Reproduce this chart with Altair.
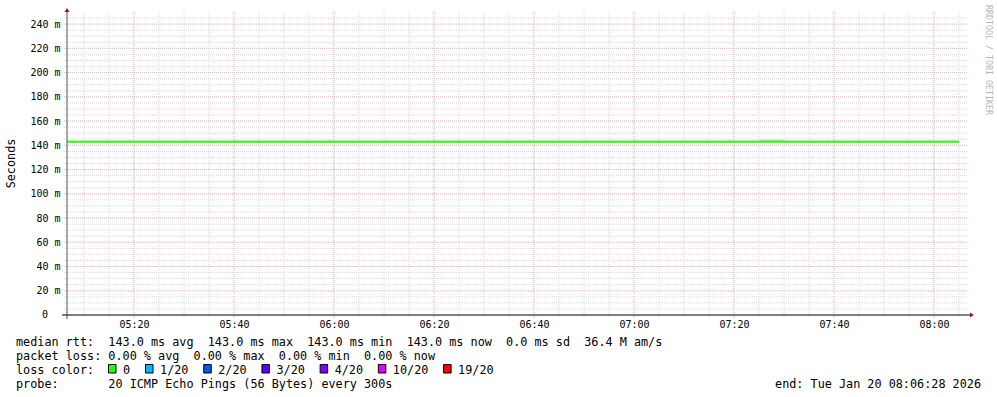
import altair as alt
import pandas as pd

# ---------------- data ----------------
times = ["05:05", "05:10", "05:15", "05:20", "05:25", "05:30", "05:35", "05:40",
         "05:45", "05:50", "05:55", "06:00", "06:05", "06:10", "06:15", "06:20",
         "06:25", "06:30", "06:35", "06:40", "06:45", "06:50", "06:55", "07:00",
         "07:05", "07:10", "07:15", "07:20", "07:25", "07:30", "07:35", "07:40",
         "07:45", "07:50", "07:55", "08:00", "08:05"]
median_rtt = [0.143, 0.143, 0.143, 0.143, 0.143, 0.143, 0.143, 0.143,
              0.143, 0.143, 0.143, 0.143, 0.143, 0.143, 0.143, 0.143,
              0.143, 0.143, 0.143, 0.143, 0.143, 0.143, 0.143, 0.143,
              0.143, 0.143, 0.143, 0.143, 0.143, 0.143, 0.143, 0.143,
              0.143, 0.143, 0.143, 0.143, 0.143]
max_rtt = [0.143, 0.143, 0.143, 0.143, 0.143, 0.143, 0.143, 0.143,
           0.143, 0.143, 0.143, 0.143, 0.143, 0.143, 0.143, 0.143,
           0.143, 0.143, 0.143, 0.143, 0.143, 0.143, 0.143, 0.143,
           0.143, 0.143, 0.143, 0.143, 0.1445, 0.143, 0.143, 0.143,
           0.143, 0.143, 0.143, 0.143, 0.143]

x_tick_minutes = [20, 40, 60, 80, 100, 120, 140, 160, 180]   # minutes after 05:00
y_tick_values = [0.02, 0.04, 0.06, 0.08, 0.10, 0.12, 0.14, 0.16, 0.18, 0.20, 0.22, 0.24]
y_zero_label = "0"

legend_lines = [
    "median rtt:  143.0 ms avg  143.0 ms max  143.0 ms min  143.0 ms now  0.0 ms sd  36.4 M am/s",
    "packet loss: 0.00 % avg  0.00 % max  0.00 % min  0.00 % now",
    "loss color:",
    "probe:       20 ICMP Echo Pings (56 Bytes) every 300s",
]
loss_labels = ["0", "1/20", "2/20", "3/20", "4/20", "10/20", "19/20"]
loss_colors = ["#26ff00", "#00b8ff", "#0059ff", "#5e00ff", "#7e00ff", "#dd00ff", "#ff0000"]
end_text = "end: Tue Jan 20 08:06:28 2026"
y_title = "Seconds"
watermark = "RRDTOOL / TOBI OETIKER"

# ---------------- layout ----------------
W, H = 900, 303
PL, PT = 67, 12
FONT = "DejaVu Sans Mono"
NB = "\u00a0"
LFS = 11.8


def nb(s):
    return s.replace(" ", NB)


df = pd.DataFrame({
    "t": times,
    "rtt": median_rtt,
    "rmax": max_rtt,
})
df["min"] = [int(s[:2]) * 60 + int(s[3:]) - 300 for s in times]

xscale = alt.Scale(domain=[6.6, 186.6], nice=False, zero=False)
yscale = alt.Scale(domain=[0, 0.25], nice=False, zero=True)

xlabel_expr = "utcFormat((datum.value + 300) * 60000, '%H:%M')"
ylabel_expr = "format(datum.value * 1000, 'd') + '" + NB + "m'"

XAX = alt.Axis(values=x_tick_minutes, labelExpr=xlabel_expr, grid=False,
               domain=False, ticks=False, labelFont=FONT, labelFontSize=10,
               labelColor="#000000", labelPadding=4, labelFlush=False,
               labelOverlap=False, labelBound=False, title=None)
YAX = alt.Axis(values=y_tick_values, labelExpr=ylabel_expr, grid=False,
               domain=False, ticks=False, labelFont=FONT, labelFontSize=10,
               labelColor="#000000", labelPadding=7, labelFlush=False,
               labelOverlap=False, labelBound=False, title=None)

one = pd.DataFrame({"a": [0]})

minor_c = "#d9d9d9"
major_c = "#efbcbc"

y_minor = alt.Chart(alt.sequence(5, 250, 5, as_="ms")).transform_calculate(
    v="datum.ms / 1000").mark_rule(color=minor_c, strokeDash=[1, 1], strokeWidth=1).encode(
    y=alt.Y("v:Q", scale=yscale, axis=YAX, title=None),
    x=alt.value(-3), x2=alt.value(W + 1))

y_major = alt.Chart(alt.sequence(20, 260, 20, as_="ms")).transform_calculate(
    v="datum.ms / 1000").mark_rule(color=major_c, strokeDash=[1, 1], strokeWidth=1).encode(
    y=alt.Y("v:Q", scale=yscale, axis=YAX, title=None),
    x=alt.value(-3), x2=alt.value(W + 1))

x_minor = alt.Chart(alt.sequence(10, 190, 5, as_="m")).mark_rule(
    color=minor_c, strokeDash=[1, 1], strokeWidth=1).encode(
    x=alt.X("m:Q", scale=xscale, axis=XAX, title=None),
    y=alt.value(0), y2=alt.value(H + 3))

x_major = alt.Chart(alt.sequence(20, 200, 20, as_="m")).mark_rule(
    color=major_c, strokeDash=[1, 1], strokeWidth=1).encode(
    x=alt.X("m:Q", scale=xscale, axis=XAX, title=None),
    y=alt.value(0), y2=alt.value(H + 3))

smoke = alt.Chart(df).mark_area(interpolate="step-after", color="#d0d0d0", clip=True).encode(
    x=alt.X("min:Q", scale=xscale, axis=XAX, title=None),
    y=alt.Y("rtt:Q", scale=yscale, axis=YAX, title=None),
    y2="rmax:Q")

line = alt.Chart(df).mark_line(interpolate="step-after", color="#22ff00",
                               strokeWidth=2, clip=True).encode(
    x=alt.X("min:Q", scale=xscale, axis=XAX, title=None),
    y=alt.Y("rtt:Q", scale=yscale, axis=YAX, title=None),
)

# "0" label of the y axis (RRDtool pads it with two blank unit columns)
zero_label = alt.Chart(pd.DataFrame({"zl": [y_zero_label]})).mark_text(
    font=FONT, fontSize=10, align="right", baseline="middle", color="#000000").encode(
    text="zl:N", x=alt.value(-7 - 2 * 6.02), y=alt.value(H))

y_axis_line = alt.Chart(one).mark_rule(color="#555555", strokeWidth=1).encode(
    x=alt.value(0), y=alt.value(-3), y2=alt.value(H + 4))
x_axis_line = alt.Chart(one).mark_rule(color="#000000", strokeWidth=1).encode(
    y=alt.value(H), x=alt.value(-5), x2=alt.value(W + 3))

arrow_c = "#9b1c1c"
up_arrow = alt.Chart(one).mark_point(
    shape="M-1,0.8L0,-0.8L1,0.8Z", filled=True, size=25, color=arrow_c, opacity=1).encode(
    x=alt.value(0), y=alt.value(-2))
right_arrow = alt.Chart(one).mark_point(
    shape="M-0.8,-1L0.8,0L-0.8,1Z", filled=True, size=25, color=arrow_c, opacity=1).encode(
    x=alt.value(W + 5), y=alt.value(H))

# legend text lines
LX = 16 - PL
base0 = 345.5 - PT
layers_text = []
for i, s in enumerate(legend_lines):
    layers_text.append(
        alt.Chart(pd.DataFrame({"s": [nb(s)]})).mark_text(
            font=FONT, fontSize=LFS, align="left", baseline="alphabetic", color="#000000").encode(
            text="s:N", x=alt.value(LX), y=alt.value(base0 + 14 * i)))

# loss colour boxes
CW = 7.05
bx = 108.5
box_layers = []
for lab, col in zip(loss_labels, loss_colors):
    box_layers.append(
        alt.Chart(one).mark_rect(color=col, stroke="#000000", strokeWidth=1).encode(
            x=alt.value(bx - PL), x2=alt.value(bx - PL + 7.5),
            y=alt.value(364.5 - PT), y2=alt.value(373 - PT)))
    box_layers.append(
        alt.Chart(pd.DataFrame({"s": [lab]})).mark_text(
            font=FONT, fontSize=LFS, align="left", baseline="alphabetic", color="#000000").encode(
            text="s:N", x=alt.value(bx - PL + 14.5), y=alt.value(base0 + 28)))
    bx += 14.5 + len(lab) * CW + 15.5

end_layer = alt.Chart(pd.DataFrame({"s": [nb(end_text)]})).mark_text(
    font=FONT, fontSize=LFS, align="right", baseline="alphabetic", color="#000000").encode(
    text="s:N", x=alt.value(981 - PL), y=alt.value(base0 + 42))

ytitle_layer = alt.Chart(pd.DataFrame({"s": [y_title]})).mark_text(
    font=FONT, fontSize=LFS, align="center", baseline="middle", angle=270,
    color="#000000").encode(text="s:N", x=alt.value(11 - PL), y=alt.value(163.5 - PT))

wm_layer = alt.Chart(pd.DataFrame({"s": [nb(watermark)]})).mark_text(
    font=FONT, fontSize=8.3, align="center", baseline="middle", angle=90,
    color="#b4b4b4").encode(text="s:N", x=alt.value(987.5 - PL), y=alt.value(60 - PT))

chart = alt.layer(
    y_minor, x_minor, y_major, x_major, smoke, line,
    y_axis_line, x_axis_line, up_arrow, right_arrow, zero_label,
    *layers_text, *box_layers, end_layer, ytitle_layer, wm_layer
).properties(
    width=W, height=H,
    padding={"left": PL, "top": PT, "right": 997 - PL - W, "bottom": 397 - PT - H},
    autosize="none",
    background="#ffffff",
).configure_view(stroke=None)

chart.save("out.html", embed_options={"renderer": "svg", "actions": False})
